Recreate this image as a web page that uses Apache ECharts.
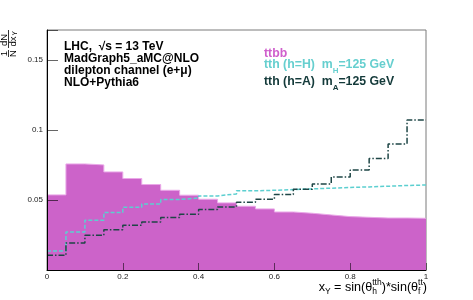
<!DOCTYPE html>
<html><head><meta charset="utf-8">
<script src="https://cdn.jsdelivr.net/npm/echarts@6/dist/echarts.min.js"></script>
<style>html,body{margin:0;padding:0;background:#fff}#c{width:473px;height:300px}</style>
</head><body><div id="c"></div>
<script>
// ---- data ----
const binEdges = [0,0.05,0.1,0.15,0.2,0.25,0.3,0.35,0.4,0.45,0.5,0.55,0.6,0.65,0.7,0.75,0.8,0.85,0.9,0.95,1.0];
const ttbb = [0.0536,0.0757,0.0750,0.0700,0.0653,0.0610,0.0569,0.0534,0.0505,0.0479,0.0455,0.0436,0.0414,0.0405,0.0393,0.0381,0.0376,0.0371,0.0371,0.0369];
const tthH = [0.0136,0.0271,0.0355,0.0410,0.0448,0.0471,0.0503,0.0514,0.0529,0.0543,0.0565,0.0569,0.0574,0.0579,0.0584,0.0589,0.0593,0.0598,0.0603,0.0607];
const tthA = [0.0105,0.0193,0.0248,0.0288,0.0319,0.0343,0.0374,0.0398,0.0431,0.0450,0.0484,0.0505,0.0539,0.0576,0.0614,0.0664,0.0714,0.0795,0.0900,0.1070];
const xTickValues = [0,0.2,0.4,0.6,0.8,1];
const xTickLabels = ['0','0.2','0.4','0.6','0.8','1'];
const yTickValues = [0.05,0.1,0.15];
const yTickLabels = ['0.05','0.1','0.15'];
const infoLines = ['LHC,  \u221As = 13 TeV','MadGraph5_aMC@NLO','dilepton channel (e+\u03BC)','NLO+Pythia6'];

function steps(vals){
  const pts = vals.map((v,i)=>[binEdges[i], v]);
  pts.push([binEdges[binEdges.length-1], vals[vals.length-1]]);
  return pts;
}
function labelFor(v, vals, labs){
  for (let i=0;i<vals.length;i++) if (Math.abs(v-vals[i])<1e-6) return labs[i];
  return '';
}

const FF = '"Liberation Sans", Arial, sans-serif';
const ctx = document.createElement('canvas').getContext('2d');
function w(t, font){ ctx.font = font; return ctx.measureText(t).width; }

function layout(pieces, x, cy, align, fill){
  const widths = pieces.map(p => p.stack ? Math.max(...p.stack.map(s=>w(s.t,s.font))) : w(p.t,p.font));
  const total = widths.reduce((a,b)=>a+b,0);
  let cx = align==='right' ? x-total : x;
  const out = [];
  pieces.forEach((p,i)=>{
    const list = p.stack ? p.stack : [p];
    list.forEach(s=>{
      out.push({type:'text', x: cx, y: cy + (s.dy||0), z: 10,
        style:{text:s.t, font:s.font, fill: s.fill||fill, align:'left', verticalAlign:'middle'}});
    });
    cx += widths[i];
  });
  return out;
}

const graphics = [];
const infoY = [47, 59, 71, 83];
infoLines.forEach((t,i)=>{
  graphics.push({type:'text', x:64, y:infoY[i], z:10,
    style:{text:t, font:'bold 12px '+FF, fill:'#000', align:'left', verticalAlign:'middle'}});
});
const LF = 'bold 12.3px '+FF, LS = 'bold 8px '+FF;
graphics.push({type:'text', x:264, y:54, z:10, style:{text:'ttbb', font:LF, fill:'#cf5fcc', align:'left', verticalAlign:'middle'}});
layout([{t:'tth (h=H)  m',font:LF},{t:'H',font:LS,dy:6},{t:'=125 GeV',font:LF}], 264, 65, 'left', '#66cfcf').forEach(g=>graphics.push(g));
layout([{t:'tth (h=A)  m',font:LF},{t:'A',font:LS,dy:6},{t:'=125 GeV',font:LF}], 264, 81.7, 'left', '#143a3a').forEach(g=>graphics.push(g));
const XF = '12.6px '+FF, XS = '8.5px '+FF;
layout([
  {t:'x',font:XF},{t:'Y',font:XS,dy:4},{t:' = sin(\u03B8',font:XF},
  {stack:[{t:'tth',font:XS,dy:-5},{t:'h',font:XS,dy:4}]},
  {t:')*sin(\u03B8',font:XF},
  {stack:[{t:'tt',font:XS,dy:-5},{t:'f',font:XS,dy:4}]},
  {t:')',font:XF}
], 427, 288, 'right', '#000').forEach(g=>graphics.push(g));
const YF = '9.5px '+FF, YS = '6.5px '+FF;
graphics.push({type:'group', x:8.5, y:44, rotation:Math.PI/2, z:10, children:[
  {type:'text', x:-9.5, y:-4.5, style:{text:'1', font:YF, fill:'#000', align:'center', verticalAlign:'middle'}},
  {type:'line', shape:{x1:-13,y1:0,x2:-6,y2:0}, style:{stroke:'#000', lineWidth:0.8}},
  {type:'text', x:-9.5, y:4.5, style:{text:'N', font:YF, fill:'#000', align:'center', verticalAlign:'middle'}},
  {type:'text', x:4, y:-4.5, style:{text:'dN', font:YF, fill:'#000', align:'center', verticalAlign:'middle'}},
  {type:'line', shape:{x1:-4,y1:0,x2:14,y2:0}, style:{stroke:'#000', lineWidth:0.8}},
  {type:'text', x:2.5, y:4.5, style:{text:'dx', font:YF, fill:'#000', align:'center', verticalAlign:'middle'}},
  {type:'text', x:8.5, y:7, style:{text:'Y', font:YS, fill:'#000', align:'left', verticalAlign:'middle'}}
]});

const chart = echarts.init(document.getElementById('c'), null, {renderer:'canvas'});
chart.setOption({
  animation:false,
  backgroundColor:'#fff',
  grid:{left:47, right:47, top:30, bottom:30, show:true, borderColor:'#7a7a7a', borderWidth:1, backgroundColor:'transparent'},
  xAxis:{type:'value', min:0, max:1, interval:0.2, z:5,
    axisLine:{show:true, lineStyle:{color:'#000', width:1}},
    axisTick:{show:true, inside:true, length:7, lineStyle:{color:'rgba(0,0,0,0.55)', width:1}},
    axisLabel:{fontSize:8, fontFamily:FF, color:'#222', margin:3, formatter:v=>labelFor(v,xTickValues,xTickLabels)},
    splitLine:{show:false}},
  yAxis:{type:'value', min:0, max:0.1713, interval:0.05, z:5,
    axisLine:{show:true, lineStyle:{color:'#000', width:1}},
    axisTick:{show:true, inside:true, length:11, lineStyle:{color:'rgba(0,0,0,0.6)', width:1}},
    axisLabel:{fontSize:8, fontFamily:FF, color:'#222', margin:4, formatter:v=>labelFor(v,yTickValues,yTickLabels)},
    splitLine:{show:false}},
  series:[
    {name:'ttbb', type:'line', step:'end', symbol:'none', data:steps(ttbb), z:2,
     lineStyle:{color:'#eaa8e8', width:1}, areaStyle:{color:'#cc63c9', opacity:1}},
    {name:'tth (h=H)', type:'line', step:'end', symbol:'none', data:steps(tthH), z:3,
     lineStyle:{color:'#5ccfd0', width:1.5, type:[4,2]}},
    {name:'tth (h=A)', type:'line', step:'end', symbol:'none', data:steps(tthA), z:4,
     lineStyle:{color:'#1e4646', width:1.5, type:[6,2,1.5,2]}}
  ],
  graphic: graphics
});
</script></body></html>
